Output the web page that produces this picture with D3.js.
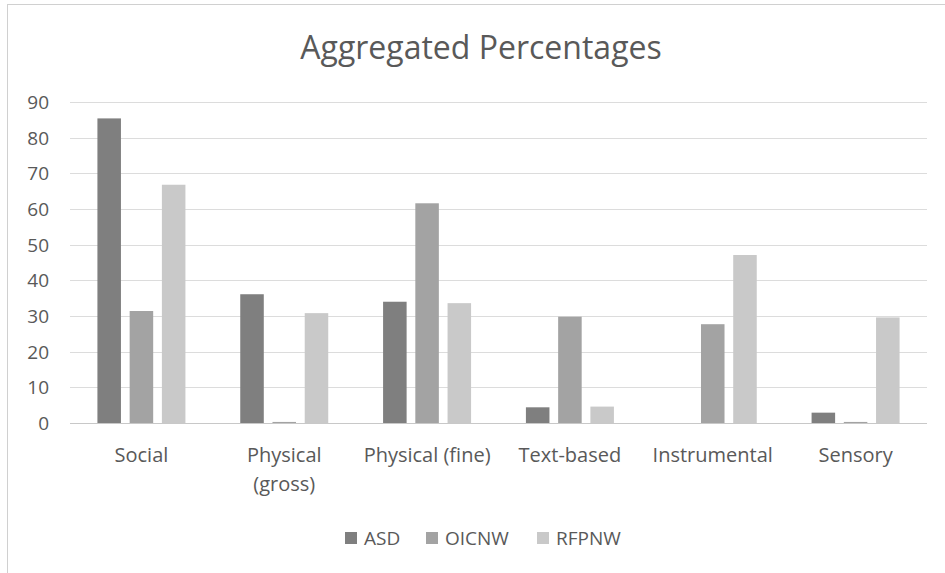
<!DOCTYPE html>
<html>
<head>
<meta charset="utf-8">
<script src="https://cdn.jsdelivr.net/npm/d3@7"></script>
<style>
  body { margin: 0; background: #fff; }
  svg { display: block; font-family: "Open Sans", "Liberation Sans", sans-serif; }
</style>
</head>
<body>
<svg id="chart" width="945" height="573"></svg>
<script>
const categories = ["Social", "Physical (gross)", "Physical (fine)", "Text-based", "Instrumental", "Sensory"];
const seriesNames = ["ASD", "OICNW", "RFPNW"];
const asd = [85.4, 36.1, 34.0, 4.4, 0, 2.9];
const oicnw = [31.4, 0.3, 61.6, 29.8, 27.7, 0.3];
const rfpnw = [66.8, 30.8, 33.6, 4.6, 47.1, 29.6];
const yTicks = [0, 10, 20, 30, 40, 50, 60, 70, 80, 90];
const colors = ["#7f7f7f", "#a3a3a3", "#c9c9c9"];

const svg = d3.select("#chart");
const values = [asd, oicnw, rfpnw];

// chart border (right and bottom edges fall outside the picture)
svg.append("rect")
  .attr("x", 7.5).attr("y", 4.5)
  .attr("width", 950).attr("height", 600)
  .attr("fill", "#fff")
  .attr("stroke", "#d0d0d0");

svg.append("text")
  .attr("x", 481).attr("y", 59)
  .attr("text-anchor", "middle")
  .attr("font-size", 32)
  .attr("fill", "#595959")
  .text("Aggregated Percentages");

const x = d3.scaleBand().domain(categories).range([70, 927]);
const xInner = d3.scaleBand().domain(seriesNames).range([0, 88]).paddingInner(0.27);
const y = d3.scaleLinear().domain([0, 90]).range([423, 102]);

// gridlines
svg.append("g")
  .selectAll("line")
  .data(yTicks)
  .enter()
  .append("line")
  .attr("x1", 70).attr("x2", 927)
  .attr("y1", (d) => Math.round(y(d)) + 0.5)
  .attr("y2", (d) => Math.round(y(d)) + 0.5)
  .attr("stroke", (d) => (d === 0 ? "#c8c8c8" : "#dcdcdc"))
  .attr("stroke-width", 1.2);

// y tick labels
svg.append("g")
  .selectAll("text")
  .data(yTicks)
  .enter()
  .append("text")
  .attr("x", 49)
  .attr("y", (d) => y(d))
  .attr("dy", "0.36em")
  .attr("text-anchor", "end")
  .attr("font-size", 19)
  .attr("fill", "#595959")
  .text((d) => d);

// bars
const groups = svg.append("g")
  .selectAll("g")
  .data(categories)
  .enter()
  .append("g")
  .attr("transform", (d) => `translate(${x(d) + (x.bandwidth() - 88) / 2},0)`);

groups.selectAll("rect")
  .data((d, i) => seriesNames.map((s, j) => ({ s, j, v: values[j][i] })))
  .enter()
  .append("rect")
  .attr("x", (d) => xInner(d.s))
  .attr("width", xInner.bandwidth())
  .attr("y", (d) => y(d.v))
  .attr("height", (d) => y(0) - y(d.v))
  .attr("fill", (d) => colors[d.j]);

// x labels
const xl = svg.append("g")
  .selectAll("text")
  .data(categories)
  .enter()
  .append("text")
  .attr("x", (d) => x(d) + x.bandwidth() / 2)
  .attr("y", 462)
  .attr("text-anchor", "middle")
  .attr("font-size", 20)
  .attr("fill", "#595959");

xl.each(function (d) {
  const t = d3.select(this);
  const lines = d === "Physical (gross)" ? ["Physical", "(gross)"] : [d];
  lines.forEach((l, i) => {
    t.append("tspan")
      .attr("x", t.attr("x"))
      .attr("dy", i === 0 ? 0 : 29)
      .text(l);
  });
});

// legend
const legendX = [345, 426, 537];
const legend = svg.append("g")
  .selectAll("g")
  .data(seriesNames)
  .enter()
  .append("g")
  .attr("transform", (d, i) => `translate(${legendX[i]},538)`);

legend.append("rect")
  .attr("x", 0).attr("y", -6)
  .attr("width", 12).attr("height", 12)
  .attr("fill", (d, i) => colors[i]);

legend.append("text")
  .attr("x", 19)
  .attr("dy", "0.36em")
  .attr("font-size", 19)
  .attr("fill", "#595959")
  .text((d) => d);
</script>
</body>
</html>
